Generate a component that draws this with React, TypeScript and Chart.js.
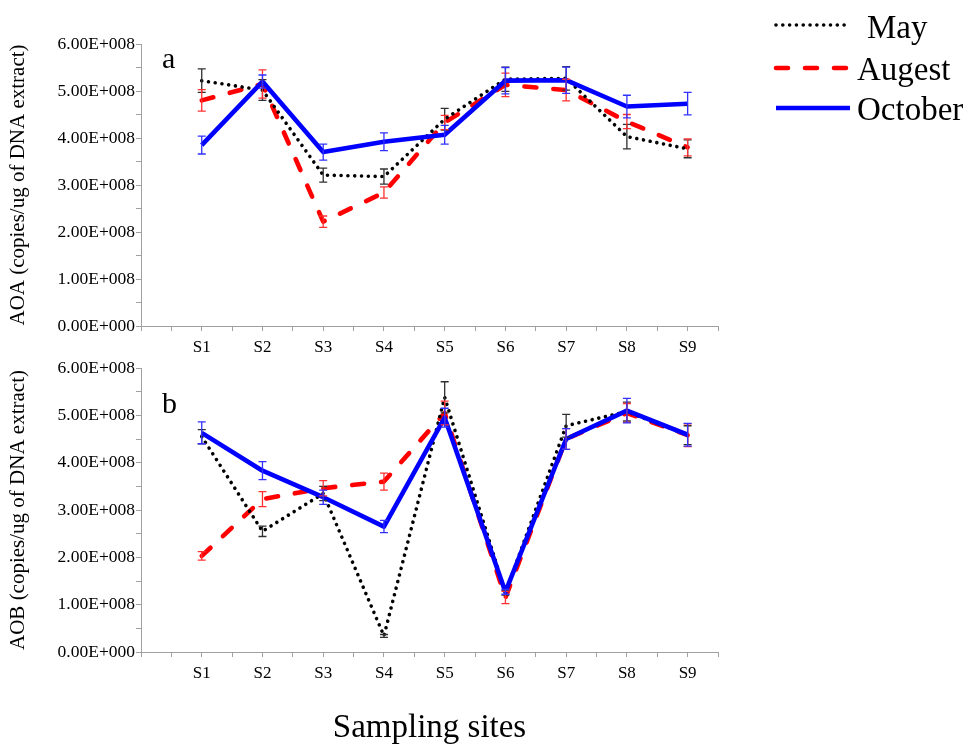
import React, { useEffect, useRef } from 'react';
import { Chart, registerables } from 'chart.js';

Chart.register(...registerables);

// ---------- data ----------
const sites = ['S1', 'S2', 'S3', 'S4', 'S5', 'S6', 'S7', 'S8', 'S9'];
const sitePos = [1, 2, 3, 4, 5, 6, 7, 8, 9];
const seriesNames = ['May', 'Augest', 'October'];

// AOA (panel a)
const aoaMay = [5.22e8, 5.02e8, 3.21e8, 3.18e8, 4.4e8, 5.25e8, 5.27e8, 4.03e8, 3.77e8];
const aoaMayErr = [0.25e8, 0.22e8, 0.15e8, 0.16e8, 0.23e8, 0.26e8, 0.25e8, 0.26e8, 0.19e8];
const aoaAug = [4.8e8, 5.15e8, 2.22e8, 2.84e8, 4.33e8, 5.13e8, 5.02e8, 4.35e8, 3.8e8];
const aoaAugErr = [0.23e8, 0.3e8, 0.12e8, 0.12e8, 0.15e8, 0.25e8, 0.23e8, 0.15e8, 0.18e8];
const aoaOct = [3.85e8, 5.2e8, 3.7e8, 3.92e8, 4.07e8, 5.22e8, 5.23e8, 4.67e8, 4.73e8];
const aoaOctErr = [0.19e8, 0.14e8, 0.17e8, 0.19e8, 0.2e8, 0.28e8, 0.28e8, 0.24e8, 0.24e8];

// AOB (panel b)
const aobMay = [4.55e8, 2.55e8, 3.35e8, 0.34e8, 5.38e8, 1.25e8, 4.78e8, 5.08e8, 4.58e8];
const aobMayErr = [0.15e8, 0.11e8, 0.15e8, 0.03e8, 0.33e8, 0.05e8, 0.24e8, 0.2e8, 0.2e8];
const aobAug = [2.03e8, 3.23e8, 3.46e8, 3.6e8, 5.05e8, 1.15e8, 4.5e8, 5.05e8, 4.58e8];
const aobAugErr = [0.09e8, 0.16e8, 0.16e8, 0.18e8, 0.25e8, 0.13e8, 0.22e8, 0.2e8, 0.24e8];
const aobOct = [4.63e8, 3.83e8, 3.27e8, 2.65e8, 4.95e8, 1.27e8, 4.5e8, 5.1e8, 4.59e8];
const aobOctErr = [0.23e8, 0.19e8, 0.15e8, 0.13e8, 0.2e8, 0.05e8, 0.22e8, 0.26e8, 0.24e8];

const yTickValues = [0, 1e8, 2e8, 3e8, 4e8, 5e8, 6e8];

// ---------- styles ----------
const FONT = "'Liberation Serif', 'Times New Roman', Times, serif";
const AXIS_GREY = '#a0a0a0';

const seriesStyles = [
  { color: '#000000', errColor: '#303030', width: 3.6, dash: [0.01, 6.8], cap: 'round', order: 1 },
  { color: '#ff0000', errColor: '#ff3030', width: 4.6, dash: [12, 17], cap: 'round', order: 2 },
  { color: '#0000ff', errColor: '#3030ff', width: 4.6, dash: [], cap: 'butt', order: 0 },
];

function sci(n: number): string {
  if (n === 0) return '0.00E+000';
  const e = Math.floor(Math.log10(n) + 1e-9);
  const m = n / Math.pow(10, e);
  return m.toFixed(2) + 'E+' + String(e).padStart(3, '0');
}

const errorBarPlugin = {
  id: 'errorBars',
  afterDatasetsDraw(chart: any) {
    const ctx = chart.ctx;
    const xs = chart.scales.x;
    const ys = chart.scales.y;
    ctx.save();
    chart.data.datasets.forEach((ds: any) => {
      const errs: number[] = ds.errors || [];
      ctx.strokeStyle = ds.errColor;
      ctx.lineWidth = 1.3;
      ctx.setLineDash([]);
      ds.data.forEach((p: any, i: number) => {
        const e = errs[i] || 0;
        const x = xs.getPixelForValue(p.x);
        const yt = ys.getPixelForValue(p.y + e);
        const yb = ys.getPixelForValue(p.y - e);
        ctx.beginPath();
        ctx.moveTo(x, yt);
        ctx.lineTo(x, yb);
        ctx.moveTo(x - 4, yt);
        ctx.lineTo(x + 4, yt);
        ctx.moveTo(x - 4, yb);
        ctx.lineTo(x + 4, yb);
        ctx.stroke();
      });
    });
    ctx.restore();
  },
};

const panelLetterPlugin = {
  id: 'panelLetter',
  afterDraw(chart: any) {
    const o = chart.options.plugins.panelLetter;
    if (!o) return;
    const ctx = chart.ctx;
    ctx.save();
    ctx.fillStyle = '#000';
    ctx.font = `30px ${FONT}`;
    ctx.textBaseline = 'alphabetic';
    ctx.fillText(o.text, o.x, o.y);
    ctx.restore();
  },
};

const legendPlugin = {
  id: 'customLegend',
  afterDraw(chart: any) {
    const o = chart.options.plugins.customLegend;
    if (!o || !o.display) return;
    const ctx = chart.ctx;
    ctx.save();
    chart.data.datasets.forEach((ds: any, i: number) => {
      const ly = o.lineY[i];
      ctx.strokeStyle = ds.borderColor;
      ctx.lineWidth = ds.borderWidth;
      ctx.lineCap = ds.borderCapStyle;
      ctx.setLineDash(ds.borderDash || []);
      ctx.beginPath();
      ctx.moveTo(o.x0, ly);
      ctx.lineTo(o.x1, ly);
      ctx.stroke();
      ctx.setLineDash([]);
      ctx.fillStyle = '#000';
      ctx.font = `${o.fontSize}px ${FONT}`;
      ctx.textBaseline = 'alphabetic';
      ctx.fillText(ds.label, o.textX[i], o.textY[i]);
    });
    ctx.restore();
  },
};

function makeDatasets(values: number[][], errors: number[][]) {
  return values.map((vals, s) => {
    const st = seriesStyles[s];
    return {
      label: seriesNames[s],
      data: vals.map((v, i) => ({ x: sitePos[i], y: v })),
      errors: errors[s],
      errColor: st.errColor,
      borderColor: st.color,
      backgroundColor: st.color,
      borderWidth: st.width,
      borderDash: st.dash,
      borderCapStyle: st.cap,
      borderJoinStyle: 'round',
      pointRadius: 0,
      pointHoverRadius: 0,
      tension: 0,
      fill: false,
      order: st.order,
    };
  });
}

function makeConfig(opts: {
  values: number[][];
  errors: number[][];
  yTitle: string;
  letter: string;
  letterY: number;
  padTop: number;
  xHeight: number;
  xTitle?: string;
  legend: boolean;
}) {
  return {
    type: 'line',
    data: { datasets: makeDatasets(opts.values, opts.errors) },
    plugins: [errorBarPlugin, panelLetterPlugin, legendPlugin],
    options: {
      responsive: false,
      animation: false,
      events: [],
      layout: { padding: { top: opts.padTop, left: 0, right: 253, bottom: 0 } },
      plugins: {
        legend: { display: false },
        tooltip: { enabled: false },
        panelLetter: { text: opts.letter, x: 162, y: opts.letterY },
        customLegend: {
          display: opts.legend,
          x0: 776,
          x1: 850,
          lineY: [25, 68, 108],
          textX: [867, 857, 857],
          textY: [38, 80, 120],
          fontSize: 33,
        },
      },
      scales: {
        x: {
          type: 'linear',
          min: 0,
          max: 9.5,
          afterFit(scale: any) {
            scale.height = opts.xHeight;
          },
          grid: {
            drawOnChartArea: false,
            drawTicks: true,
            tickLength: 5,
            color: AXIS_GREY,
          },
          border: { display: true, color: AXIS_GREY, width: 1 },
          ticks: {
            stepSize: 0.5,
            autoSkip: false,
            maxRotation: 0,
            minRotation: 0,
            padding: 6,
            color: '#000',
            font: { family: FONT, size: 17 },
            callback(v: any) {
              const n = Number(v);
              const idx = sitePos.indexOf(n);
              return idx >= 0 ? sites[idx] : '';
            },
          },
          title: opts.xTitle
            ? {
                display: true,
                text: opts.xTitle,
                color: '#000',
                font: { family: FONT, size: 33, lineHeight: 1 },
                padding: { top: 0, bottom: 1 },
              }
            : { display: false },
        },
        y: {
          type: 'linear',
          min: 0,
          max: 6e8,
          afterFit(scale: any) {
            scale.width = 141;
          },
          grid: {
            drawOnChartArea: false,
            drawTicks: true,
            tickLength: 5,
            color: AXIS_GREY,
          },
          border: { display: true, color: AXIS_GREY, width: 1 },
          ticks: {
            stepSize: 0.5e8,
            autoSkip: false,
            padding: 1,
            color: '#000',
            font: { family: FONT, size: 17.5 },
            callback(v: any) {
              const n = Number(v);
              return yTickValues.indexOf(n) >= 0 ? sci(n) : '';
            },
          },
          title: {
            display: true,
            text: opts.yTitle,
            color: '#000',
            font: { family: FONT, size: 21, lineHeight: 1.2 },
            padding: { top: 6, bottom: 0 },
          },
        },
      },
    },
  };
}

function ChartCanvas({ top, height, config }: { top: number; height: number; config: any }) {
  const ref = useRef<HTMLCanvasElement | null>(null);
  useEffect(() => {
    if (!ref.current) return;
    const chart = new Chart(ref.current, config);
    return () => chart.destroy();
  }, []);
  return (
    <canvas
      ref={ref}
      width={971}
      height={height}
      style={{ position: 'absolute', left: 0, top, width: 971, height, display: 'block' }}
    />
  );
}

export default function App() {
  const configA = makeConfig({
    values: [aoaMay, aoaAug, aoaOct],
    errors: [aoaMayErr, aoaAugErr, aoaOctErr],
    yTitle: 'AOA (copies/ug of DNA extract)',
    letter: 'a',
    letterY: 68,
    padTop: 44,
    xHeight: 34,
    legend: true,
  });
  const configB = makeConfig({
    values: [aobMay, aobAug, aobOct],
    errors: [aobMayErr, aobAugErr, aobOctErr],
    yTitle: 'AOB (copies/ug of DNA extract)',
    letter: 'b',
    letterY: 58,
    padTop: 13,
    xHeight: 94,
    xTitle: 'Sampling sites',
    legend: false,
  });
  return (
    <div style={{ position: 'absolute', left: 0, top: 0, width: 971, height: 746, background: '#fff' }}>
      <ChartCanvas top={0} height={360} config={configA} />
      <ChartCanvas top={355} height={391} config={configB} />
    </div>
  );
}
